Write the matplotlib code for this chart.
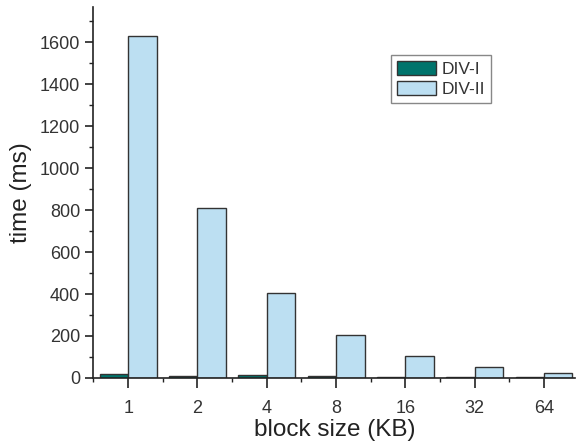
import numpy as np
import matplotlib.pyplot as plt
from matplotlib.ticker import MultipleLocator

plt.rcParams['font.family'] = ['Liberation Sans', 'DejaVu Sans']

block_sizes = ["1", "2", "4", "8", "16", "32", "64"]
div1 = [18, 8, 12, 8, 6, 5, 5]
div2 = [1632, 808, 404, 204, 104, 51, 22]

fig = plt.figure(figsize=(5.77, 4.42), dpi=100)
ax = fig.add_axes([0.162, 0.145, 0.835, 0.84])

x = np.arange(len(block_sizes))
w = 0.41
ax.bar(x - w / 2, div1, w, color="#00746c", edgecolor="#333333", linewidth=1.0, label="DIV-I")
ax.bar(x + w / 2, div2, w, color="#bcdff2", edgecolor="#333333", linewidth=1.0, label="DIV-II")

ax.set_xlim(-0.5, 6.45)
ax.set_ylim(0, 1770)
ax.set_xticks(x)
ax.set_xticklabels(block_sizes)
ax.xaxis.set_minor_locator(MultipleLocator(0.5))
ax.yaxis.set_major_locator(MultipleLocator(200))
ax.yaxis.set_minor_locator(MultipleLocator(100))

for s in ("top", "right"):
    ax.spines[s].set_visible(False)
for s in ("left", "bottom"):
    ax.spines[s].set_linewidth(1.2)
    ax.spines[s].set_color("#222222")

ax.tick_params(axis="both", which="major", length=6, width=1.2, labelsize=13,
               color="#222222", labelcolor="#333333")
ax.tick_params(axis="x", which="major", length=7, pad=9)
ax.tick_params(axis="both", which="minor", length=3, width=1.0, color="#222222")

ax.set_xlabel("block size (KB)", fontsize=17.5, labelpad=1, color="#222222")
ax.set_ylabel("time (ms)", fontsize=17.5, labelpad=6, color="#222222")

leg = ax.legend(loc="upper left", bbox_to_anchor=(0.678, 0.876),
                bbox_transform=fig.transFigure, borderaxespad=0, fontsize=12.5,
                fancybox=False, framealpha=1, edgecolor="#888888",
                handlelength=2.25, handleheight=0.9, borderpad=0.35,
                labelspacing=0.2, handletextpad=0.3)
for t in leg.get_texts():
    t.set_color("#333333")

fig.savefig("out.png", dpi=100)
